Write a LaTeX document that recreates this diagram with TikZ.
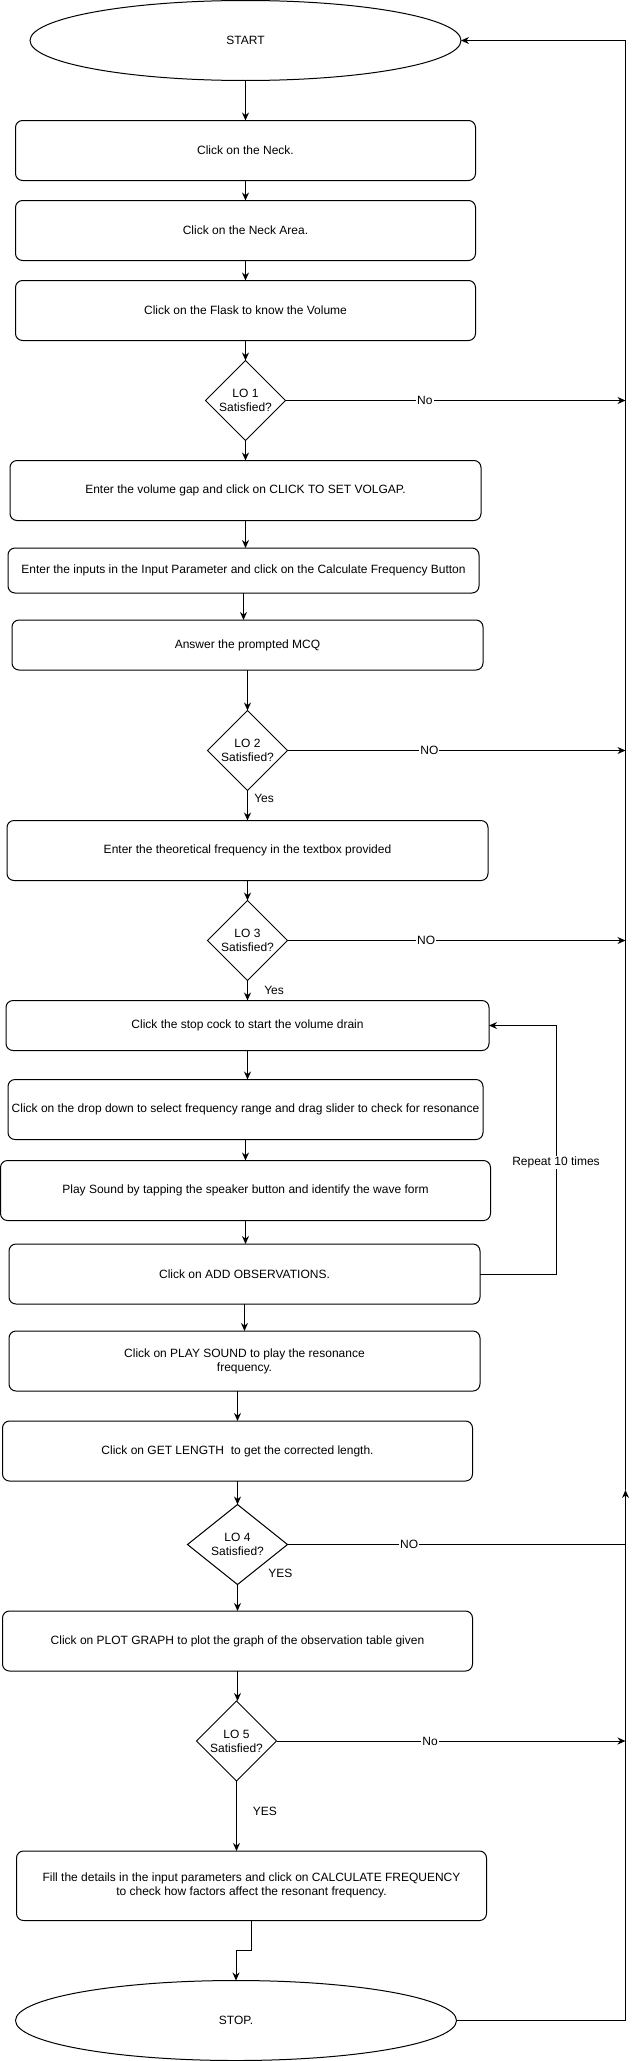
\documentclass[tikz,border=0pt]{standalone}
\usepackage{fontspec}
\setmainfont{Liberation Sans}
\usetikzlibrary{positioning}
\usetikzlibrary{shapes.geometric}
\usetikzlibrary{arrows.meta}

\tikzset{
  proc/.style={draw, rounded corners=7pt, outer sep=0pt, minimum height=60pt, align=center},
  dec/.style={draw, diamond, aspect=1, outer sep=0pt, inner sep=0pt,
              minimum width=80pt, minimum height=80pt, align=center},
  term/.style={draw, ellipse, outer sep=0pt, minimum height=80pt},
  lbl/.style={fill=white, inner sep=1pt},
  arr/.style={-{Stealth[length=8pt,width=7pt]}},
}

\begin{document}
\begin{tikzpicture}[x=1pt, y=-1pt, line width=1pt, font=\fontsize{12}{14}\selectfont]
  \useasboundingbox (0,0) rectangle (634,2061);

  \node[term, minimum width=431pt] at (245.5,40.5) (st) {START};

  % flask and neck
  \node[proc, minimum width=460pt, below=40pt of st]  (n1) {Click on the Neck.};
  \node[proc, minimum width=460pt, below=20pt of n1]  (n2) {Click on the Neck Area.};
  \node[proc, minimum width=460pt, below=20pt of n2]  (n3) {Click on the Flask to know the Volume};
  \node[dec, below=20pt of n3]                        (d1) {LO 1\\Satisfied?};

  % inputs and mcq
  \node[proc, minimum width=471pt, below=20pt of d1]  (n4) {Enter the volume gap and click on CLICK TO SET VOLGAP.};
  \node[proc, minimum width=471pt, minimum height=45pt, below=27.5pt of n4, xshift=-2pt]
      (n5) {Enter the inputs in the Input Parameter and click on the Calculate Frequency Button};
  \node[proc, minimum width=471pt, minimum height=50pt, below=27pt of n5, xshift=4pt]
      (n6) {Answer the prompted MCQ};
  \node[dec, below=40.5pt of n6]                      (d2) {LO 2\\Satisfied?};
  \node[proc, minimum width=481pt, below=30pt of d2]  (n7) {Enter the theoretical frequency in the textbox provided};
  \node[dec, below=20pt of n7]                        (d3) {LO 3\\Satisfied?};

  % observation loop
  \node[proc, minimum width=483pt, minimum height=50pt, below=20pt of d3]
      (n8) {Click the stop cock to start the volume drain};
  \node[proc, minimum width=475pt, below=29pt of n8, xshift=-2pt]
      (n9) {Click on the drop down to select frequency range and drag slider to check for resonance};
  \node[proc, minimum width=490pt, below=21pt of n9]
      (n10) {Play Sound by tapping the speaker button and identify the wave form};
  \node[proc, minimum width=471pt, below=23.5pt of n10, xshift=-1pt]
      (n11) {Click on ADD OBSERVATIONS.};

  % length and graph
  \node[proc, minimum width=471pt, below=27pt of n11]
      (n12) {Click on PLAY SOUND to play the resonance\\frequency.};
  \node[proc, minimum width=470pt, below=30pt of n12, xshift=-7pt]
      (n13) {Click on GET LENGTH\ \ to get the corrected length.};
  \node[dec, minimum width=100pt, below=23.5pt of n13] (d4) {LO 4\\Satisfied?};
  \node[proc, minimum width=470pt, below=26.5pt of d4]
      (n14) {Click on PLOT GRAPH to plot the graph of the observation table given};
  \node[dec, below=30pt of n14, xshift=-1pt]           (d5) {LO 5\\Satisfied?};
  \node[proc, minimum width=470pt, minimum height=69.5pt, below=70pt of d5, xshift=15pt]
      (n15) {Fill the details in the input parameters and click on CALCULATE FREQUENCY\\to check how factors affect the resonant frequency.};

  \node[term, minimum width=441pt, below=60pt of n15, xshift=-15.5pt] (sp) {STOP.};

  % return line on the right
  \coordinate (rt) at (625.5,1490);
  \coordinate (lp) at (556,1274);

  \path[every edge/.style={draw, arr}]
    (st)  edge (st |- n1.north)
    (n1)  edge (n1 |- n2.north)
    (n2)  edge (n2 |- n3.north)
    (n3)  edge (n3 |- d1.north)
    (d1)  edge (d1 |- n4.north)
    (n4)  edge (n4 |- n5.north)
    (n5)  edge (n5 |- n6.north)
    (n6)  edge (n6 |- d2.north)
    (d2)  edge node[right, pos=0.28, xshift=3pt] {Yes} (d2 |- n7.north)
    (n7)  edge (n7 |- d3.north)
    (d3)  edge node[right, pos=0.5, xshift=13pt] {Yes} (d3 |- n8.north)
    (n8)  edge (n8 |- n9.north)
    (n9)  edge (n9 |- n10.north)
    (n10) edge (n10 |- n11.north)
    (n11) edge (n11 |- n12.north)
    (n12.south -| n13) edge (n13.north)
    (n13) edge (n13 |- d4.north)
    (d4)  edge node[right, pos=0, xshift=27pt, yshift=11.5pt] {YES} (d4 |- n14.north)
    (n14) edge (n14 |- d5.north)
    (d5)  edge node[right, pos=0.44, xshift=12.5pt] {YES} (d5 |- n15.north);

  % NO branches
  \path[every edge/.style={draw, arr}]
    (d1) edge node[lbl, pos=0.41] {No} (d1 -| rt)
    (d2) edge node[lbl, pos=0.42] {NO} (d2 -| rt)
    (d3) edge node[lbl, pos=0.41] {NO} (d3 -| rt)
    (d4) edge[-] node[lbl, pos=0.36] {NO} (d4 -| rt)
    (d5) edge node[lbl, pos=0.44] {No} (d5 -| rt);

  \draw[arr] (n15.south) -- ++(0,30) -| (sp.north);

  \draw[arr] (n11.east) -- (lp) |- node[lbl, pos=0.225] {Repeat 10 times} (n8.east);

  \draw[arr] (sp.east) -- (sp -| rt) -- (rt);
  \draw[arr] (rt) -- (rt |- st) -- (st.east);
\end{tikzpicture}
\end{document}
